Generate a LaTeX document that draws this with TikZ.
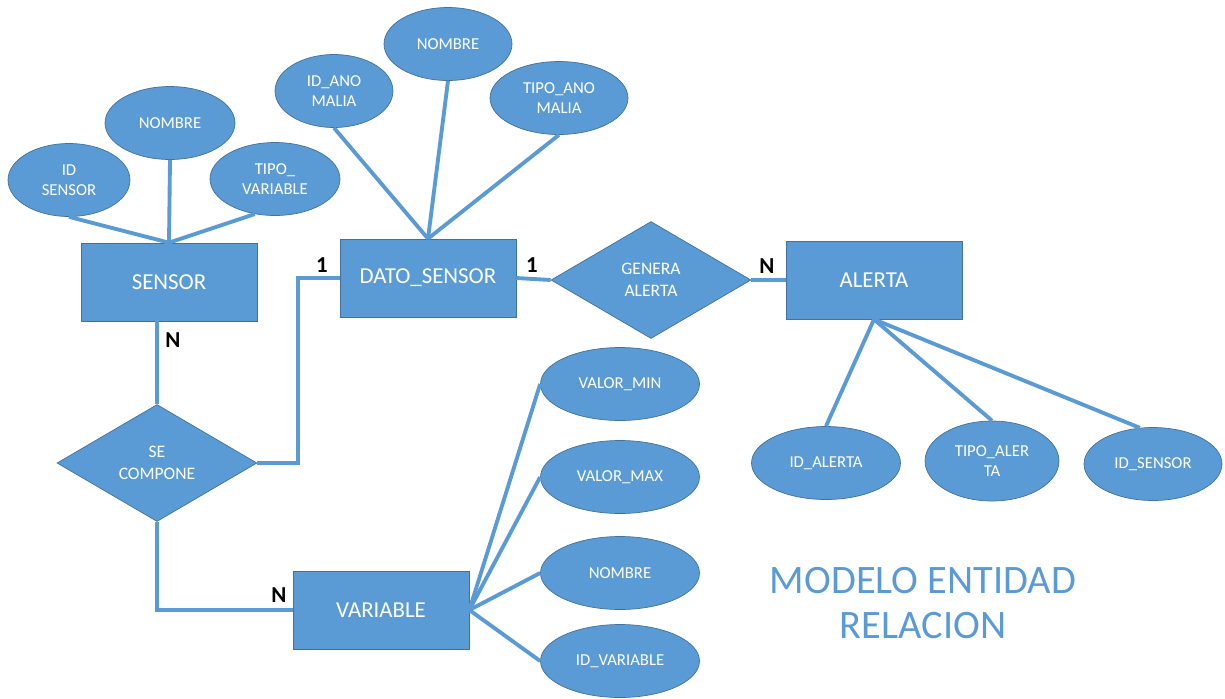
\documentclass[tikz,border=0pt]{standalone}
\usepackage{fontspec}
\setmainfont{Carlito}
\usepackage{tikz}
\usetikzlibrary{positioning,shapes.geometric}
\definecolor{ErBlue}{RGB}{91,155,213}
\definecolor{ErEdge}{RGB}{65,113,156}
\tikzset{
  entity/.style={draw=ErEdge,fill=ErBlue,minimum width=3.52cm,minimum height=1.56cm,text=white,font=\fontsize{13}{15}\selectfont},
  attrib/.style={ellipse,draw=ErEdge,fill=ErBlue,minimum width=2.6cm,minimum height=1.46cm,inner sep=0pt,text=white,align=center,font=\fontsize{9.5}{11.5}\selectfont},
  relation/.style={diamond,draw=ErEdge,fill=ErBlue,aspect=1.7,minimum width=4cm,minimum height=2.34cm,inner sep=0pt,text=white,align=center,font=\fontsize{10}{12.8}\selectfont},
  link/.style={draw=ErBlue,line width=2.2pt},
  card/.style={font=\bfseries\fontsize{13}{15}\selectfont}
}

\begin{document}
\begin{tikzpicture}[x=0.02cm,y=-0.02cm]
\useasboundingbox (0,0) rectangle (1225,698);

\node[entity] (sensor) at (169,282) {SENSOR};
\node[entity] (dato) at (428,278) {DATO\_SENSOR};
\node[entity] (alerta) at (874,280) {ALERTA};
\node[entity] (variable) at (381,610) {VARIABLE};

\node[relation] (genera) at (651,280) {GENERA\\ALERTA};
\node[relation] (compone) at (157,463) {SE\\COMPONE};

\node[attrib,minimum width=2.44cm] (idsensor) at (69,180) {ID\\SENSOR};
\node[attrib] (nomsensor) at (170,123) {NOMBRE};
\node[attrib] (tipovar) at (275,179) {TIPO\_\\VARIABLE};

\node[attrib,minimum width=2.36cm] (idanom) at (334,91) {ID\_ANO\\MALIA};
\node[attrib,minimum width=2.56cm] (nomdato) at (448,44) {NOMBRE};
\node[attrib,minimum width=2.76cm] (tipoanom) at (559,98) {TIPO\_ANO\\MALIA};

\node[attrib,minimum width=2.98cm] (idalerta) at (826,463) {ID\_ALERTA};
\node[attrib,minimum width=2.68cm,minimum height=1.6cm] (tipoalerta) at (992,461) {TIPO\_ALER\\TA};
\node[attrib,minimum width=2.76cm] (idsenal) at (1153,464) {ID\_SENSOR};

\node[attrib,minimum width=3.18cm] (vmin) at (620,384) {VALOR\_MIN};
\node[attrib,minimum width=3.18cm] (vmax) at (620,477) {VALOR\_MAX};
\node[attrib,minimum width=3.18cm] (nomvar) at (620,573) {NOMBRE};
\node[attrib,minimum width=3.18cm] (idvar) at (620,661) {ID\_VARIABLE};

% atributos
\draw[link] (idsensor.south) -- (sensor.north);
\draw[link] (nomsensor.south) -- (sensor.north);
\draw[link] (tipovar.240) -- (sensor.north);
\draw[link] (idanom.south) -- (dato.north);
\draw[link] (nomdato.south) -- (dato.north);
\draw[link] (tipoanom.south) -- (dato.north);
\draw[link] (alerta.south) -- (idalerta.north);
\draw[link] (alerta.south) -- (tipoalerta.north);
\draw[link] (alerta.south) -- (idsenal.110);
\draw[link] (variable.east) -- (vmin.west);
\draw[link] (variable.east) -- (vmax.west);
\draw[link] (variable.east) -- (nomvar.west);
\draw[link] (variable.east) -- (idvar.west);

% relaciones
\draw[link] (dato.east) -- (genera.west);
\draw[link] (genera.east) -- (alerta.west);
\draw[link] (sensor.south -| compone.north) -- (compone.north);
\draw[link] (compone.east) -- ++(41,0) |- (dato.west);
\draw[link] (compone.south) |- (variable.west);

\node[card] (c1) at (322,265) {1};
\node[card] (c2) at (532,265) {1};
\node[card] (c3) at (767,266) {N};
\node[card] (c4) at (173,340) {N};
\node[card] (c5) at (279,595) {N};

\node[text=ErBlue,align=center,font=\fontsize{23}{26}\selectfont] (titulo) at (923,603) {MODELO ENTIDAD\\RELACION};
\end{tikzpicture}
\end{document}
